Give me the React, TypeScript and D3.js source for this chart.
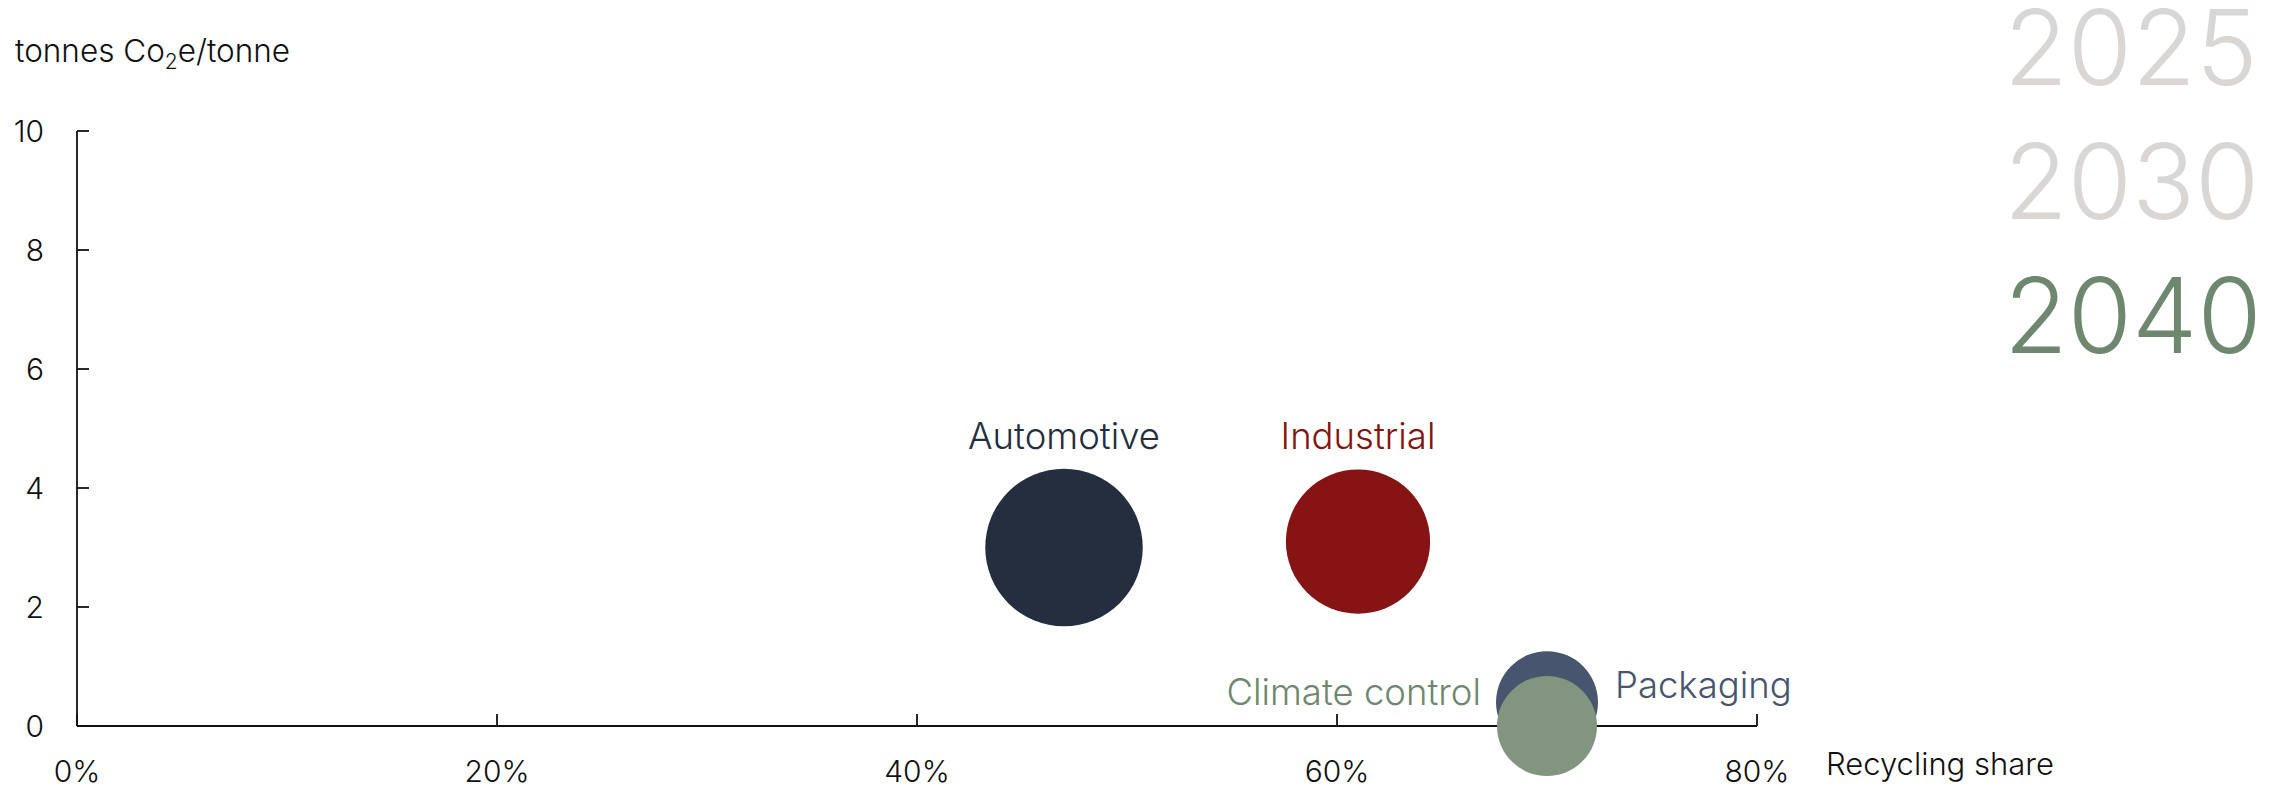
import React from "react";
import * as d3 from "d3";

const sectors = ["Automotive", "Industrial", "Packaging", "Climate control"];
const recyclingShare = [0.47, 0.61, 0.7, 0.7];
const emissions = [3.0, 3.1, 0.4, 0.0];
const volume = [6.2, 5.2, 2.6, 2.5];
const years = ["2025", "2030", "2040"];
const activeYear = "2040";
const yTicks = [0, 2, 4, 6, 8, 10];
const xTicks = [0, 0.2, 0.4, 0.6, 0.8];

const circleColors: Record<string, string> = {
  Automotive: "#252e3f",
  Industrial: "#861414",
  Packaging: "#47566e",
  "Climate control": "#82957f",
};
const labelColors: Record<string, string> = {
  Automotive: "#252e3f",
  Industrial: "#861414",
  Packaging: "#47566e",
  "Climate control": "#6e8870",
};
const labelPlacement: Record<string, string> = {
  Automotive: "top",
  Industrial: "top",
  Packaging: "right",
  "Climate control": "left",
};

const W = 2277;
const H = 790;
const FONT = "Inter, 'Noto Sans', sans-serif";

export default function App() {
  const x = d3.scaleLinear().domain([0, 0.8]).range([77, 1757]);
  const y = d3.scaleLinear().domain([0, 10]).range([726, 131]);
  const r = d3.scaleSqrt().domain([0, 10]).range([0, 100]);
  const fmt = d3.format(".0%");
  const tickLen = 12;

  const pts = sectors.map((s, i) => ({
    name: s,
    cx: x(recyclingShare[i]),
    cy: y(emissions[i]),
    r: r(volume[i]),
  }));

  return (
    <svg
      width={W}
      height={H}
      style={{ position: "absolute", left: 0, top: 0, fontFamily: FONT }}
    >
      <rect width={W} height={H} fill="#fff" />
      {/* y axis title */}
      <text x={15} y={62} fontSize={31.5} fill="#111" fontWeight={300}>
        tonnes Co
        <tspan fontSize={21} dy={7}>2</tspan>
        <tspan dy={-7}>e/tonne</tspan>
      </text>

      {/* axes */}
      <g stroke="#111" strokeWidth={1.8} fill="none">
        <line x1={x(0)} x2={x(0)} y1={y(10)} y2={y(0)} />
        <line x1={x(0)} x2={x(0.8)} y1={y(0)} y2={y(0)} />
        {yTicks.map((t) => (
          <line key={"yt" + t} x1={x(0)} x2={x(0) + tickLen} y1={y(t)} y2={y(t)} />
        ))}
        {xTicks.map((t) => (
          <line key={"xt" + t} x1={x(t)} x2={x(t)} y1={y(0)} y2={y(0) - tickLen} />
        ))}
      </g>
      {yTicks.map((t) => (
        <text
          key={"yl" + t}
          x={44}
          y={y(t)}
          textAnchor="end"
          dominantBaseline="central"
          fontSize={30}
          fontWeight={300}
          fill="#111"
        >
          {t}
        </text>
      ))}
      {xTicks.map((t) => (
        <text
          key={"xl" + t}
          x={x(t)}
          y={782}
          textAnchor="middle"
          fontSize={30}
          fontWeight={300}
          fill="#111"
        >
          {fmt(t)}
        </text>
      ))}
      <text x={1826} y={775} fontSize={31} fontWeight={300} fill="#111">
        Recycling share
      </text>

      {/* bubbles */}
      {pts.map((p) => (
        <circle key={p.name} cx={p.cx} cy={p.cy} r={p.r} fill={circleColors[p.name]} />
      ))}
      {pts.map((p) => {
        const pl = labelPlacement[p.name];
        let lx = p.cx;
        let ly = p.cy - p.r - 20;
        let anchor = "middle";
        if (pl === "right") {
          lx = p.cx + p.r + 17;
          ly = p.cy - 4;
          anchor = "start";
        } else if (pl === "left") {
          lx = p.cx - p.r - 16;
          ly = p.cy - 21;
          anchor = "end";
        }
        return (
          <text
            key={"lab" + p.name}
            x={lx}
            y={ly}
            textAnchor={anchor as any}
            fontSize={36.5}
            fontWeight={300}
            fill={labelColors[p.name]}
          >
            {p.name}
          </text>
        );
      })}

      {/* year selector */}
      {years.map((yr, i) => (
        <text
          key={yr}
          x={2004}
          y={85 + i * 134}
          fontSize={104}
          fontWeight={300}
          fill={yr === activeYear ? "#6e8870" : "#d9d6d3"}
        >
          {yr}
        </text>
      ))}
    </svg>
  );
}
